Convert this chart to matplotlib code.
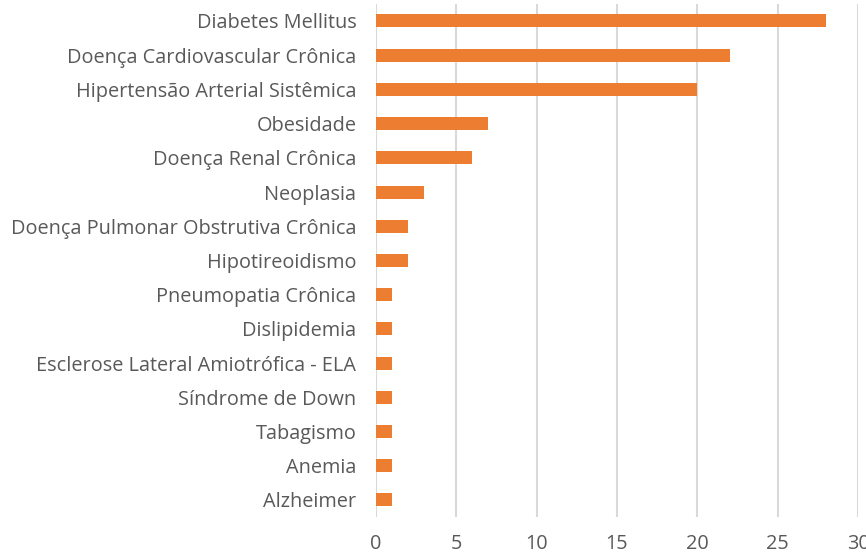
import matplotlib.pyplot as plt

labels = ['Diabetes Mellitus', 'Doença Cardiovascular Crônica', 'Hipertensão Arterial Sistêmica',
          'Obesidade', 'Doença Renal Crônica', 'Neoplasia', 'Doença Pulmonar Obstrutiva Crônica',
          'Hipotireoidismo', 'Pneumopatia Crônica', 'Dislipidemia',
          'Esclerose Lateral Amiotrófica - ELA', 'Síndrome de Down', 'Tabagismo', 'Anemia', 'Alzheimer']
values = [28, 22, 20, 7, 6, 3, 2, 2, 1, 1, 1, 1, 1, 1, 1]
xticks = [0, 5, 10, 15, 20, 25, 30]

plt.rcParams['font.family'] = ['Open Sans', 'DejaVu Sans']

fig = plt.figure(figsize=(8.66, 5.53), dpi=100)
ax = fig.add_axes([0.434, 0.065, 0.557, 0.928])

y = list(range(len(labels)))
ax.barh(y, values, height=0.38, color='#ED7D31', zorder=3)
ax.set_ylim(len(labels) - 0.5, -0.5)
ax.set_xlim(0, 30)
ax.set_yticks(y)
ax.set_yticklabels(labels, fontsize=14.3, color='#595959')
ax.set_xticks(xticks)
ax.set_xticklabels([str(t) for t in xticks], fontsize=14.3, color='#595959')
ax.tick_params(axis='x', length=0, pad=12)
ax.tick_params(axis='y', length=0, pad=14)
ax.grid(axis='x', color='#d9d9d9', linewidth=1.5, zorder=0)
for s in ax.spines.values():
    s.set_visible(False)

fig.savefig('out.png', dpi=100)
